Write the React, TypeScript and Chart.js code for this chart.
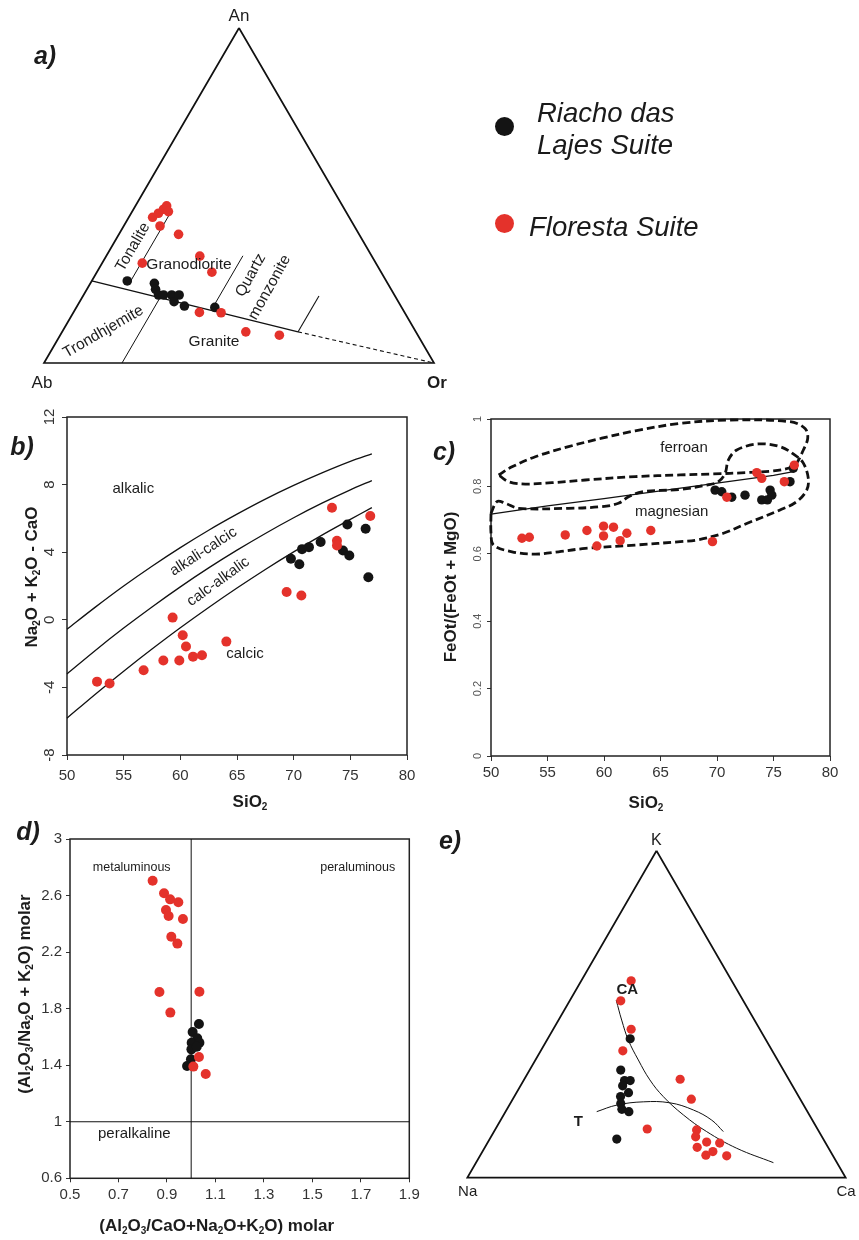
import React, { useEffect, useRef } from "react";
import { Chart, registerables } from "chart.js";
Chart.register(...registerables);

const FONT = "'Liberation Sans', Arial, Helvetica, sans-serif";
const RED = "#e4322b";
const BLACK = "#141414";
const INK = "#1c1c1c";
const H = Math.sqrt(3) / 2;

// ---------- a) An–Ab–Or ternary, values as [An %, Or %] (Ab = rest) ----------
const aFloresta: [number, number][] = [
  [43.5, 6.1], [44.7, 7.0], [45.9, 7.7], [46.9, 8.0], [45.2, 9.3], [40.9, 9.3], [38.4, 15.3],
  [29.8, 10.3], [31.9, 24.0], [27.1, 29.5], [15.1, 32.3], [15.0, 37.9], [9.3, 47.1], [8.3, 56.2],
];
const aRiacho: [number, number][] = [
  [24.5, 9.1], [23.8, 16.4], [22.0, 17.6], [20.3, 19.2], [20.3, 20.5], [20.3, 22.6], [20.3, 24.5],
  [18.3, 24.2], [17.0, 27.5], [16.6, 35.5],
];
const aFrame: [number, number][] = [[100, 0], [0, 0], [0, 100], [100, 0]];
const aMainBoundary: [number, number][] = [[24.5, 0], [9.3, 60.5]];
const aDashedBoundary: [number, number][] = [[9.3, 60.5], [0, 100]];
const aTonaliteLine: [number, number][] = [[23.5, 10], [44.5, 10]];
const aTrondhjemiteLine: [number, number][] = [[0, 20], [19.8, 20]];
const aQzMonzLine: [number, number][] = [[16.8, 35], [32, 35]];
const aQzMonzRightLine: [number, number][] = [[9.3, 60.5], [20, 60.5]];

// ---------- b) MALI vs SiO2 ----------
const bFloresta: [number, number][] = [
  [52.65, -3.66], [53.76, -3.77], [56.76, -2.99], [58.5, -2.41], [59.32, 0.13], [59.91, -2.41],
  [60.21, -0.91], [60.5, -1.58], [61.12, -2.18], [61.91, -2.1], [64.06, -1.29], [69.38, 1.65],
  [70.68, 1.44], [73.38, 6.63], [73.82, 4.68], [73.82, 4.4], [76.76, 6.14],
];
const bRiacho: [number, number][] = [
  [69.76, 3.61], [70.5, 3.29], [70.74, 4.18], [71.35, 4.3], [72.38, 4.6], [74.35, 4.1],
  [74.74, 5.64], [74.91, 3.81], [76.35, 5.39], [76.59, 2.52],
];
const bCurveSiO2 = [50, 52.5, 55, 57.5, 60, 62.5, 65, 67.5, 70, 72.5, 75, 76.9];
const bAlkalicLine = [-0.56, 0.75, 2.0, 3.17, 4.27, 5.3, 6.25, 7.14, 7.95, 8.69, 9.37, 9.82];
const bAlkCalcLine = [-3.2, -1.81, -0.49, 0.76, 1.95, 3.07, 4.12, 5.11, 6.04, 6.9, 7.69, 8.24];
const bCalcAlkLine = [-5.82, -4.4, -3.04, -1.73, -0.47, 0.73, 1.88, 2.98, 4.02, 5.01, 5.94, 6.64];
const bXTicks = [50, 55, 60, 65, 70, 75, 80];
const bYTicks = [-8, -4, 0, 4, 8, 12];

// ---------- c) Fe-index vs SiO2 ----------
const cFloresta: [number, number][] = [
  [52.74, 0.646], [53.39, 0.649], [56.57, 0.656], [58.49, 0.669], [59.96, 0.682], [60.84, 0.679],
  [59.96, 0.653], [62.02, 0.661], [64.14, 0.669], [59.37, 0.623], [61.43, 0.639], [69.6, 0.636],
  [70.87, 0.768], [73.52, 0.841], [73.96, 0.824], [75.96, 0.814], [76.84, 0.863],
];
const cRiacho: [number, number][] = [
  [69.83, 0.789], [70.42, 0.784], [71.3, 0.768], [72.48, 0.774], [73.96, 0.76], [74.46, 0.76],
  [74.7, 0.789], [74.85, 0.774], [76.46, 0.814], [76.75, 0.854],
];
const cBoundarySiO2 = [50, 55, 60, 65, 70, 75, 77];
const cBoundary = [0.718, 0.742, 0.764, 0.787, 0.81, 0.833, 0.845];
const cFerroanField: [number, number][] = [
  [50.67, 0.834], [51.86, 0.858], [53.92, 0.888], [56.86, 0.918], [59.81, 0.943], [62.76, 0.965],
  [66.74, 0.987], [71.16, 0.997], [76.46, 0.992], [77.79, 0.972], [78.03, 0.943], [77.64, 0.908],
  [77.06, 0.869], [76.75, 0.858], [74.99, 0.846], [72.63, 0.841], [69.68, 0.837], [66.74, 0.834],
  [62.76, 0.829], [58.34, 0.819], [55.39, 0.811], [53.03, 0.807], [51.56, 0.814], [50.67, 0.834],
];
const cMagnesianField: [number, number][] = [
  [50, 0.72], [50.53, 0.755], [51.26, 0.75], [52.44, 0.735], [56.86, 0.735], [59.81, 0.74],
  [61.28, 0.75], [62.17, 0.769], [63.35, 0.784], [66.74, 0.791], [69.1, 0.804], [70.12, 0.814],
  [70.72, 0.839], [71.0, 0.878], [71.75, 0.908], [73.66, 0.926], [75.58, 0.918], [76.9, 0.893],
  [77.64, 0.869], [78.08, 0.824], [77.94, 0.789], [77.06, 0.755], [75.58, 0.73], [72.63, 0.69],
  [70.57, 0.661], [68.21, 0.641], [66.74, 0.636], [62.76, 0.626], [58.34, 0.616], [55.98, 0.606],
  [53.92, 0.599], [51.86, 0.606], [50.23, 0.626], [50, 0.661], [50, 0.72],
];
const cXTicks = [50, 55, 60, 65, 70, 75, 80];
const cYTicks = [0, 0.2, 0.4, 0.6, 0.8, 1];

// ---------- d) A/NK vs A/CNK ----------
const dFloresta: [number, number][] = [
  [0.841, 2.705], [0.888, 2.616], [0.913, 2.573], [0.947, 2.552], [0.896, 2.498], [0.907, 2.455],
  [0.966, 2.434], [0.918, 2.309], [0.943, 2.26], [0.869, 1.918], [1.034, 1.92], [0.914, 1.772],
  [1.032, 1.458], [1.009, 1.39], [1.06, 1.338],
];
const dRiacho: [number, number][] = [
  [1.032, 1.691], [1.006, 1.635], [1.025, 1.59], [1.002, 1.559], [1.034, 1.559], [1.001, 1.512],
  [1.023, 1.531], [0.999, 1.442], [0.983, 1.394],
];
const dXTicks = [0.5, 0.7, 0.9, 1.1, 1.3, 1.5, 1.7, 1.9];
const dYTicks = [0.6, 1, 1.4, 1.8, 2.2, 2.6, 3];
const dVertical: [number, number][] = [[1, 0.6], [1, 3]];
const dHorizontal: [number, number][] = [[0.5, 1], [1.9, 1]];

// ---------- e) K–Na–Ca ternary, values as [K %, Ca %] (Na = rest) ----------
const eFloresta: [number, number][] = [
  [60.2, 13.2], [54.1, 13.5], [45.4, 20.6], [38.8, 21.7], [30.1, 41.2], [24.0, 47.2], [14.9, 40.1],
  [14.6, 53.3], [12.5, 54.1], [10.9, 57.8], [10.6, 61.4], [9.3, 56.1], [8.0, 60.9], [6.9, 59.6],
  [6.7, 65.2],
];
const eRiacho: [number, number][] = [
  [42.5, 21.8], [32.9, 24.1], [29.7, 26.7], [29.7, 28.2], [28.1, 27.0], [26.0, 29.6], [24.8, 28.1],
  [22.7, 29.2], [20.9, 30.4], [20.2, 32.6], [11.8, 33.6],
];
const eFrame: [number, number][] = [[100, 0], [0, 0], [0, 100], [100, 0]];
const eCALine: [number, number][] = [
  [54.3, 12.2], [48.2, 16.7], [42.1, 21.5], [36.0, 27.2], [29.9, 33.3], [24.8, 39.4], [19.2, 47.5],
  [14.1, 56.2], [9.0, 66.7], [4.6, 78.6],
];
const eTLine: [number, number][] = [
  [20.2, 24.1], [22.2, 28.4], [23.2, 34.9], [22.9, 42.1], [20.7, 49.4], [17.6, 55.8], [14.1, 60.6],
];

// ---------- helpers ----------
const tern = (arr: [number, number][]) =>
  arr.map(([top, right]) => ({ x: right / 100 + top / 200, y: (top / 100) * H }));
const xy = (arr: [number, number][]) => arr.map(([x, y]) => ({ x, y }));
const zipXY = (xs: number[], ys: number[]) => xs.map((x, i) => ({ x, y: ys[i] }));

const pts = (data: any[], color: string, r: number) => ({
  data, backgroundColor: color, borderColor: color, borderWidth: 0,
  pointRadius: r, pointHoverRadius: r, showLine: false, clip: false as any,
});
const line = (data: any[], opts: any = {}) => ({
  data, showLine: true, pointRadius: 0, pointHoverRadius: 0, borderColor: "#111",
  backgroundColor: "transparent", borderWidth: 1.2, fill: false, tension: 0, clip: false as any,
  ...opts,
});

type Seg = { t: string; sub?: boolean };
function parse(s: string): Seg[] {
  const out: Seg[] = [];
  const re = /_(\d)/g;
  let last = 0;
  let m: RegExpExecArray | null;
  while ((m = re.exec(s))) {
    if (m.index > last) out.push({ t: s.slice(last, m.index) });
    out.push({ t: m[1], sub: true });
    last = re.lastIndex;
  }
  if (last < s.length) out.push({ t: s.slice(last) });
  return out;
}
function txt(ctx: CanvasRenderingContext2D, s: string, x: number, y: number, o: any = {}) {
  const size = o.size ?? 15;
  const segs = parse(s);
  ctx.save();
  ctx.translate(x, y);
  if (o.rotate) ctx.rotate((o.rotate * Math.PI) / 180);
  ctx.fillStyle = o.color ?? INK;
  ctx.textBaseline = "middle";
  ctx.textAlign = "left";
  const f = (sub?: boolean) =>
    `${o.style ?? "normal"} ${o.weight ?? "normal"} ${sub ? Math.round(size * 0.6) : size}px ${FONT}`;
  let w = 0;
  for (const sg of segs) { ctx.font = f(sg.sub); w += ctx.measureText(sg.t).width; }
  let cx = o.align === "left" ? 0 : o.align === "right" ? -w : -w / 2;
  for (const sg of segs) {
    ctx.font = f(sg.sub);
    ctx.fillText(sg.t, cx, sg.sub ? size * 0.3 : 0);
    cx += ctx.measureText(sg.t).width;
  }
  ctx.restore();
}

function frame(chart: any) {
  const { ctx, chartArea: a } = chart;
  ctx.save();
  ctx.strokeStyle = "#222";
  ctx.lineWidth = 1.5;
  ctx.strokeRect(a.left, a.top, a.right - a.left, a.bottom - a.top);
  ctx.restore();
}

function xAxis(min: number, max: number, ticks: number[], height: number, padding: number, tickLength = 5) {
  return {
    type: "linear", min, max,
    afterBuildTicks: (s: any) => { s.ticks = ticks.map((v) => ({ value: v })); },
    afterFit: (s: any) => { s.height = height; },
    ticks: {
      autoSkip: false, maxRotation: 0, minRotation: 0, padding, color: "#333",
      font: { family: FONT, size: 15 }, callback: (v: any) => String(v),
    },
    grid: { drawOnChartArea: false, drawTicks: true, tickLength, color: "#333", lineWidth: 1 },
    border: { display: false },
  };
}
function yAxis(min: number, max: number, ticks: number[], width: number, showLabels: boolean, tickLength = 5) {
  return {
    type: "linear", min, max,
    afterBuildTicks: (s: any) => { s.ticks = ticks.map((v) => ({ value: v })); },
    afterFit: (s: any) => { s.width = width; },
    ticks: {
      display: showLabels, padding: 4, color: "#333",
      font: { family: FONT, size: 15 }, callback: (v: any) => String(v),
    },
    grid: { drawOnChartArea: false, drawTicks: true, tickLength, color: "#333", lineWidth: 1 },
    border: { display: false },
  };
}
const hiddenTernaryScales = {
  x: { type: "linear", min: 0, max: 1, display: false },
  y: { type: "linear", min: 0, max: H, display: false },
};
const baseOptions = (padding: any, scales: any) => ({
  responsive: false, animation: false, events: [], layout: { padding }, scales,
  plugins: { legend: { display: false }, tooltip: { enabled: false }, title: { display: false } },
});

// ---------- chart configs ----------
function configA() {
  return {
    type: "scatter",
    data: {
      datasets: [
        pts(tern(aFloresta), RED, 4.8),
        pts(tern(aRiacho), BLACK, 4.8),
        line(tern(aFrame), { borderWidth: 1.7 }),
        line(tern(aMainBoundary), { borderWidth: 1.4 }),
        line(tern(aDashedBoundary), { borderWidth: 1.1, borderDash: [4, 3] }),
        line(tern(aTonaliteLine), { borderWidth: 1 }),
        line(tern(aTrondhjemiteLine), { borderWidth: 1 }),
        line(tern(aQzMonzLine), { borderWidth: 1 }),
        line(tern(aQzMonzRightLine), { borderWidth: 1.1 }),
      ],
    },
    options: baseOptions({ left: 44, right: 425, top: 28, bottom: 32 }, hiddenTernaryScales),
    plugins: [{
      id: "decoA",
      afterDraw(chart: any) {
        const c = chart.ctx;
        txt(c, "An", 239, 16, { size: 17 });
        txt(c, "Ab", 42, 383, { size: 17 });
        txt(c, "Or", 437, 383, { size: 17, weight: "bold" });
        txt(c, "a)", 45, 57, { size: 25, weight: "bold", style: "italic" });
        txt(c, "Tonalite", 133, 247, { size: 15.5, rotate: -60 });
        txt(c, "Granodiorite", 189, 265, { size: 15.5 });
        txt(c, "Quartz", 250.7, 275.3, { size: 15.5, rotate: -61 });
        txt(c, "monzonite", 269.7, 287.3, { size: 15.5, rotate: -61 });
        txt(c, "Trondhjemite", 103.3, 331.7, { size: 15.5, rotate: -30 });
        txt(c, "Granite", 214, 342, { size: 15.5 });
      },
    }],
  };
}

function configB() {
  return {
    type: "scatter",
    data: {
      datasets: [
        pts(xy(bFloresta), RED, 5),
        pts(xy(bRiacho), BLACK, 5),
        line(zipXY(bCurveSiO2, bAlkalicLine), { tension: 0.3, borderWidth: 1.3 }),
        line(zipXY(bCurveSiO2, bAlkCalcLine), { tension: 0.3, borderWidth: 1.3 }),
        line(zipXY(bCurveSiO2, bCalcAlkLine), { tension: 0.3, borderWidth: 1.3 }),
      ],
    },
    options: baseOptions({ left: 0, right: 23, top: 22, bottom: 0 }, {
      x: xAxis(50, 80, bXTicks, 65, 7),
      y: yAxis(-8, 12, bYTicks, 67, false),
    }),
    plugins: [{
      id: "decoB",
      beforeDatasetsDraw: frame,
      afterDraw(chart: any) {
        const c = chart.ctx;
        const ys = chart.scales.y;
        ys.ticks.forEach((t: any) =>
          txt(c, String(t.value), 50, ys.getPixelForValue(t.value), { size: 15, rotate: -90, color: "#333" }));
        txt(c, "Na_2O + K_2O - CaO", 32, 182, { size: 17, weight: "bold", rotate: -90 });
        txt(c, "SiO_2", 250, 407, { size: 17, weight: "bold" });
        txt(c, "b)", 22, 53, { size: 25, weight: "bold", style: "italic" });
        txt(c, "alkalic", 133.3, 94.3, { size: 15 });
        txt(c, "alkali-calcic", 203.3, 156.7, { size: 15, rotate: -33 });
        txt(c, "calc-alkalic", 218.3, 186.7, { size: 15, rotate: -36 });
        txt(c, "calcic", 245, 259, { size: 15 });
      },
    }],
  };
}

function configC() {
  return {
    type: "scatter",
    data: {
      datasets: [
        pts(xy(cFloresta), RED, 4.7),
        pts(xy(cRiacho), BLACK, 4.7),
        line(zipXY(cBoundarySiO2, cBoundary), { borderWidth: 1.3 }),
        line(xy(cFerroanField), { borderWidth: 2.8, borderDash: [8, 4], tension: 0.35, capBezierPoints: false }),
        line(xy(cMagnesianField), { borderWidth: 2.8, borderDash: [8, 4], tension: 0.35, capBezierPoints: false }),
      ],
    },
    options: baseOptions({ left: 0, right: 29, top: 24, bottom: 0 }, {
      x: xAxis(50, 80, cXTicks, 64, 3),
      y: yAxis(0, 1, cYTicks, 61, false, 4),
    }),
    plugins: [{
      id: "decoC",
      beforeDatasetsDraw: frame,
      afterDraw(chart: any) {
        const c = chart.ctx;
        const ys = chart.scales.y;
        ys.ticks.forEach((t: any) =>
          txt(c, String(t.value), 47.7, ys.getPixelForValue(t.value), { size: 11, rotate: -90, color: "#555" }));
        txt(c, "FeOt/(FeOt + MgO)", 21, 192, { size: 17, weight: "bold", rotate: -90 });
        txt(c, "SiO_2", 216, 408, { size: 17, weight: "bold" });
        txt(c, "c)", 14, 58, { size: 25, weight: "bold", style: "italic" });
        txt(c, "ferroan", 254, 52.7, { size: 15 });
        txt(c, "magnesian", 241.7, 116.7, { size: 15 });
      },
    }],
  };
}

function configD() {
  return {
    type: "scatter",
    data: {
      datasets: [
        pts(xy(dFloresta), RED, 5),
        pts(xy(dRiacho), BLACK, 5),
        line(xy(dVertical), { borderWidth: 1 }),
        line(xy(dHorizontal), { borderWidth: 1 }),
      ],
    },
    options: baseOptions({ left: 0, right: 20.7, top: 19, bottom: 0 }, {
      x: xAxis(0.5, 1.9, dXTicks, 61.7, 4, 4),
      y: yAxis(0.6, 3, dYTicks, 70, true, 4),
    }),
    plugins: [{
      id: "decoD",
      beforeDatasetsDraw: frame,
      afterDraw(chart: any) {
        const c = chart.ctx;
        txt(c, "(Al_2O_3/Na_2O + K_2O) molar", 25, 174, { size: 17, weight: "bold", rotate: -90 });
        txt(c, "(Al_2O_3/CaO+Na_2O+K_2O) molar", 216.7, 406, { size: 17, weight: "bold" });
        txt(c, "d)", 28, 13, { size: 25, weight: "bold", style: "italic" });
        txt(c, "metaluminous", 131.7, 48, { size: 12.5 });
        txt(c, "peraluminous", 357.7, 48, { size: 12.5 });
        txt(c, "peralkaline", 134.3, 314, { size: 15 });
      },
    }],
  };
}

function configE() {
  return {
    type: "scatter",
    data: {
      datasets: [
        pts(tern(eFloresta), RED, 4.6),
        pts(tern(eRiacho), BLACK, 4.6),
        line(tern(eFrame), { borderWidth: 1.7 }),
        line(tern(eCALine), { borderWidth: 1, tension: 0.4 }),
        line(tern(eTLine), { borderWidth: 1, tension: 0.4 }),
      ],
    },
    options: baseOptions({ left: 37.3, right: 13.3, top: 30.7, bottom: 62.3 }, hiddenTernaryScales),
    plugins: [{
      id: "decoE",
      afterDraw(chart: any) {
        const c = chart.ctx;
        txt(c, "K", 226.3, 20.5, { size: 16 });
        txt(c, "Na", 37.7, 371.7, { size: 15 });
        txt(c, "Ca", 416, 372, { size: 15 });
        txt(c, "e)", 20, 22, { size: 25, weight: "bold", style: "italic" });
        txt(c, "CA", 197.3, 170, { size: 15, weight: "bold" });
        txt(c, "T", 148.3, 302.3, { size: 15, weight: "bold" });
      },
    }],
  };
}

function Panel({ left, top, width, height, build }: any) {
  const ref = useRef<HTMLCanvasElement>(null);
  useEffect(() => {
    const chart = new Chart(ref.current as HTMLCanvasElement, build() as any);
    return () => chart.destroy();
  }, []);
  return (
    <canvas
      ref={ref}
      width={width}
      height={height}
      style={{ position: "absolute", left, top, width, height }}
    />
  );
}

const legendText: React.CSSProperties = {
  position: "absolute", fontFamily: FONT, fontStyle: "italic", fontSize: 27.5,
  lineHeight: "32px", color: "#1a1a1a", whiteSpace: "nowrap",
};
const dot = (cx: number, cy: number, color: string): React.CSSProperties => ({
  position: "absolute", left: cx - 9.5, top: cy - 9.5, width: 19, height: 19,
  borderRadius: "50%", background: color,
});

export default function App() {
  return (
    <div style={{ position: "absolute", left: 0, top: 0, width: 859, height: 1240, background: "#fff", overflow: "hidden" }}>
      <Panel left={0} top={0} width={859} height={395} build={configA} />
      <Panel left={0} top={395} width={430} height={425} build={configB} />
      <Panel left={430} top={395} width={429} height={425} build={configC} />
      <Panel left={0} top={820} width={430} height={420} build={configD} />
      <Panel left={430} top={820} width={429} height={420} build={configE} />
      <div style={dot(504, 126, BLACK)} />
      <div style={{ ...legendText, left: 537, top: 97 }}>Riacho das<br />Lajes Suite</div>
      <div style={dot(504, 223, RED)} />
      <div style={{ ...legendText, left: 529, top: 211 }}>Floresta Suite</div>
    </div>
  );
}
